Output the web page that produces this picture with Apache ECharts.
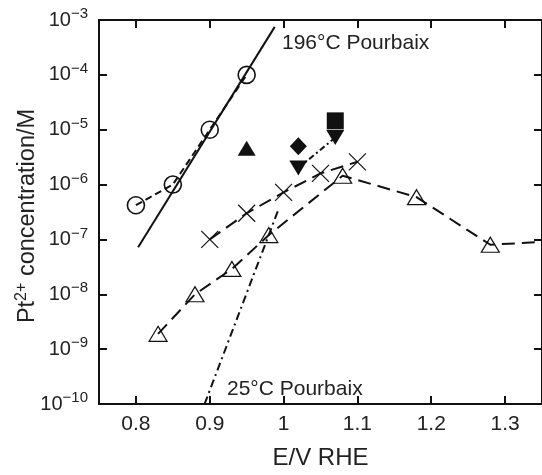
<!DOCTYPE html>
<html><head><meta charset="utf-8">
<script src="https://cdn.jsdelivr.net/npm/echarts@6/dist/echarts.min.js"></script>
<style>html,body{margin:0;padding:0;background:#fff}#c{width:542px;height:475px}</style>
</head><body><div id="c"></div>
<script>
const xTicks = [0.8, 0.9, 1.0, 1.1, 1.2, 1.3];
const yTicks = [1e-10, 1e-9, 1e-8, 1e-7, 1e-6, 1e-5, 1e-4, 1e-3];
const circles = [[0.80, 4.2e-7], [0.85, 1.0e-6], [0.90, 1.0e-5], [0.95, 1.0e-4]];
const pourbaix196 = [[0.803, 7.2e-8], [0.988, 7.5e-4]];
const pourbaix25 = [[0.893, 1e-10], [0.993, 3.5e-7]];
const crosses = [[0.90, 1.0e-7], [0.95, 3.0e-7], [1.00, 7.2e-7], [1.05, 1.6e-6], [1.10, 2.6e-6]];
const openTri = [[0.83, 1.9e-9], [0.88, 1.0e-8], [0.93, 2.9e-8], [0.98, 1.2e-7], [1.08, 1.45e-6], [1.18, 5.9e-7], [1.28, 8.0e-8]];
const openTriTail = [1.35, 9.0e-8];
const filledUpTri = [[0.95, 4.6e-6]];
const filledDiamond = [[1.02, 5.0e-6]];
const filledSquare = [[1.07, 1.45e-5]];
const filledDownTri = [[1.02, 2.0e-6], [1.07, 7.2e-6]];

const FONT = 'Liberation Sans, Arial, sans-serif';
const TXT = '#222';
const crossPath = 'path://M0,0L10,10M10,0L0,10';

const chart = echarts.init(document.getElementById('c'), null, {renderer: 'canvas'});
const axisLine = {show: true, lineStyle: {color: '#111', width: 2}};
const tick = {show: true, inside: true, length: 8, lineStyle: {color: '#111', width: 2}};

chart.setOption({
  animation: false,
  backgroundColor: '#fff',
  grid: {left: 99, right: -3, top: 20, bottom: 62, containLabel: false},
  xAxis: [{
    type: 'value', min: 0.75, max: 1.35, position: 'bottom',
    axisLine: axisLine,
    axisTick: Object.assign({customValues: xTicks}, tick),
    axisLabel: {customValues: xTicks, margin: 10, fontSize: 21, color: TXT, fontFamily: FONT,
      formatter: v => (Math.abs(v - 1) < 1e-9 ? '1' : String(Math.round(v * 10) / 10))},
    splitLine: {show: false},
    name: 'E/V RHE', nameLocation: 'middle', nameGap: 42,
    nameTextStyle: {fontSize: 24, color: TXT, fontFamily: FONT}
  }, {
    type: 'value', min: 0.75, max: 1.35, position: 'top',
    axisLine: axisLine,
    axisTick: Object.assign({customValues: xTicks}, tick),
    axisLabel: {show: false}, splitLine: {show: false}
  }],
  yAxis: [{
    type: 'log', logBase: 10, min: 1e-10, max: 1e-3, position: 'left',
    axisLine: axisLine,
    axisTick: Object.assign({customValues: yTicks}, tick),
    axisLabel: {customValues: yTicks, margin: 11, color: TXT, fontFamily: FONT,
      formatter: v => '{b|10}{s|−' + Math.round(-Math.log10(v)) + '}',
      rich: {b: {fontSize: 20, fontFamily: FONT, color: TXT},
             s: {fontSize: 15, fontFamily: FONT, color: TXT, padding: [0, 0, 12, 0]}}},
    splitLine: {show: false}
  }, {
    type: 'log', logBase: 10, min: 1e-10, max: 1e-3, position: 'right',
    axisLine: axisLine,
    axisTick: Object.assign({customValues: yTicks}, tick),
    axisLabel: {show: false}, splitLine: {show: false}
  }],
  series: [
    {type: 'line', data: pourbaix196, symbol: 'none', z: 2,
     lineStyle: {color: '#111', width: 2, type: 'solid'}},
    {type: 'line', data: pourbaix25, symbol: 'none', z: 2,
     lineStyle: {color: '#111', width: 2, type: [8, 4, 2, 4]}},
    {type: 'line', data: circles, symbol: 'circle', symbolSize: 17, z: 3,
     lineStyle: {color: '#111', width: 2, type: [7, 4]},
     itemStyle: {color: 'rgba(255,255,255,0)', borderColor: '#111', borderWidth: 1.6}},
    {type: 'line', data: crosses, symbol: crossPath, symbolSize: 17, z: 3,
     lineStyle: {color: '#111', width: 2, type: [13, 7]},
     itemStyle: {color: 'none', borderColor: '#111', borderWidth: 1.2}},
    {type: 'line', data: openTri.concat([{value: openTriTail, symbol: 'none'}]), symbol: 'triangle', symbolSize: [18, 15], z: 4,
     lineStyle: {color: '#111', width: 2, type: [13, 7]},
     itemStyle: {color: 'rgba(255,255,255,0)', borderColor: '#111', borderWidth: 1.2}},
    {type: 'line', data: filledDownTri, symbol: 'triangle', symbolRotate: 180, symbolSize: [18, 15], z: 5,
     lineStyle: {color: '#111', width: 2, type: [6, 3, 2, 3]},
     itemStyle: {color: '#111', opacity: 1}},
    {type: 'scatter', data: filledUpTri, symbol: 'triangle', symbolSize: [18, 15], z: 5,
     itemStyle: {color: '#111', opacity: 1}},
    {type: 'scatter', data: filledDiamond, symbol: 'diamond', symbolSize: [17, 18], z: 5,
     itemStyle: {color: '#111', opacity: 1}},
    {type: 'scatter', data: filledSquare, symbol: 'rect', symbolSize: 17, z: 5,
     itemStyle: {color: '#111', opacity: 1}}
  ],
  graphic: [
    {type: 'text', left: 282, top: 33, style: {text: '196°C Pourbaix', fontSize: 21, fontFamily: FONT, fill: TXT}},
    {type: 'text', left: 227, top: 379, style: {text: '25°C Pourbaix', fontSize: 21, fontFamily: FONT, fill: TXT}},
    {type: 'text', x: 28, y: 216, rotation: Math.PI / 2,
     style: {text: 'Pt{s|2+} concentration/M', fontSize: 23.5, fontFamily: FONT, fill: TXT,
       align: 'center', verticalAlign: 'middle',
       rich: {s: {fontSize: 16, fontFamily: FONT, fill: TXT, padding: [0, 0, 13, 0]}}}}
  ]
});
</script></body></html>
